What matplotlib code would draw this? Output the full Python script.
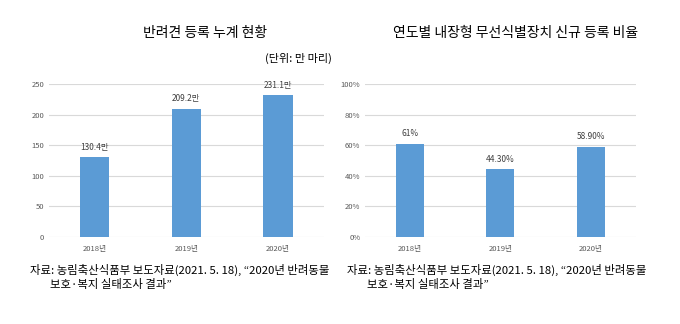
import numpy as np
import matplotlib.pyplot as plt

plt.rcParams['font.family'] = ['Noto Sans CJK KR', 'DejaVu Sans']

years = ['2018년', '2019년', '2020년']
dogs = [130.4, 209.2, 231.1]
dog_labels = ['130.4만', '209.2만', '231.1만']
rfid = [0.61, 0.443, 0.589]
rfid_labels = ['61%', '44.30%', '58.90%']

source = '자료: 농림축산식품부 보도자료(2021. 5. 18), “2020년 반려동물\n        보호·복지 실태조사 결과”'

bar_color = '#5b9bd5'
grid_color = '#d9d9d9'
tick_color = '#595959'

fig = plt.figure(figsize=(6.8, 3.24), dpi=100)
ax1 = fig.add_axes([0.072, 0.269, 0.404, 0.472])
ax2 = fig.add_axes([0.537, 0.269, 0.398, 0.472])


def style(ax):
    for s in ax.spines.values():
        s.set_visible(False)
    ax.grid(axis='y', color=grid_color, linewidth=0.8)
    ax.set_axisbelow(True)
    ax.tick_params(length=0, labelsize=5.5, labelcolor=tick_color)
    ax.tick_params(axis='x', pad=6)
    ax.set_xlim(-0.5, 2.5)


x = np.arange(len(years))
b1 = ax1.bar(x, dogs, width=0.32, color=bar_color)
ax1.set_ylim(0, 250)
ax1.set_yticks(np.arange(0, 251, 50))
ax1.set_xticks(x, years)
style(ax1)
for rect, lab in zip(b1, dog_labels):
    ax1.annotate(lab, (rect.get_x() + rect.get_width() / 2, rect.get_height()),
                 xytext=(0, 4), textcoords='offset points', ha='center', va='bottom',
                 fontsize=6, color='#404040')

b2 = ax2.bar(x, rfid, width=0.31, color=bar_color)
ax2.set_ylim(0, 1)
ax2.set_yticks(np.arange(0, 1.01, 0.2), [f'{int(v)}%' for v in np.arange(0, 101, 20)])
ax2.set_xticks(x, years)
style(ax2)
for rect, lab in zip(b2, rfid_labels):
    ax2.annotate(lab, (rect.get_x() + rect.get_width() / 2, rect.get_height()),
                 xytext=(0, 4), textcoords='offset points', ha='center', va='bottom',
                 fontsize=6, color='#404040')

fig.text(205 / 680, 1 - 33 / 324, '반려견 등록 누계 현황', ha='center', va='center', fontsize=10)
fig.text(298 / 680, 1 - 58 / 324, '(단위: 만 마리)', ha='center', va='center', fontsize=8)
fig.text(516 / 680, 1 - 33 / 324, '연도별 내장형 무선식별장치 신규 등록 비율', ha='center', va='center', fontsize=10)

fig.text(30 / 680, 1 - 264 / 324, source, ha='left', va='top', fontsize=8.2, linespacing=1.35)
fig.text(347 / 680, 1 - 264 / 324, source, ha='left', va='top', fontsize=8.2, linespacing=1.35)

fig.savefig('out.png', dpi=100)
